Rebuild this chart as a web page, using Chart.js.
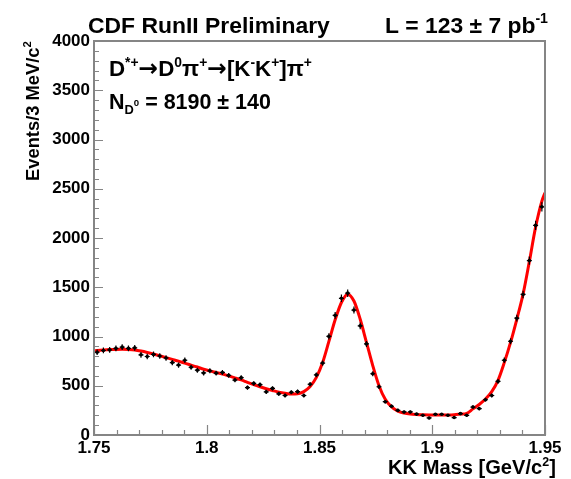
<!DOCTYPE html>
<html>
<head>
<meta charset="utf-8">
<script src="https://cdn.jsdelivr.net/npm/chart.js@4.4.0/dist/chart.umd.min.js"></script>
<style>
  html, body { margin: 0; padding: 0; background: #fff; }
</style>
</head>
<body>
<canvas id="chart" width="571" height="479"></canvas>
<script>
// histogram binning (KK invariant mass, GeV/c^2)
const massLo = 1.75;
const massHi = 1.95;
const nBins = 72;

// events per bin
const counts = [
  840, 858, 864, 879, 892, 879, 885, 814, 797, 818,
  802, 782, 735, 710, 759, 688, 658, 630, 652, 628,
  635, 605, 558, 582, 481, 524, 511, 438, 473, 418,
  401, 434, 440, 401, 515, 610, 730, 1001, 1214, 1388,
  1440, 1268, 1108, 925, 622, 490, 338, 292, 250, 234,
  234, 212, 200, 173, 210, 210, 200, 177, 217, 200,
  284, 268, 358, 401, 544, 759, 952, 1186, 1427, 1771,
  2128, 2316
];

// fit curve: value at the lower edge, at every bin centre, then at the upper edge
const fitValues = [
  855,
  858, 863, 867, 869, 870, 868, 863, 852, 838, 822,
  804, 786, 768, 750, 729, 710, 690, 668, 651, 635,
  619, 600, 580, 559, 535, 512, 490, 470, 452, 435,
  423, 415, 418, 440, 492, 585, 735, 950, 1170, 1345,
  1430, 1360, 1175, 940, 705, 500, 362, 285, 243, 223,
  213, 208, 205, 203, 202, 202, 203, 206, 212, 220,
  265, 310, 365, 440, 555, 735, 940, 1175, 1430, 1760,
  2110, 2375,
  2460
];

const xTicks = [1.75, 1.8, 1.85, 1.9, 1.95];
const xMinorStep = 0.01;
const yMin = 0, yMax = 4000, yStep = 500, yMinorStep = 100;

const binWidth = (massHi - massLo) / nBins;
const centres = counts.map((_, i) => massLo + (i + 0.5) * binWidth);
const points = counts.map((n, i) => ({ x: centres[i], y: n }));
const fitX = [massLo, ...centres, massHi];
const fitPoints = fitValues.map((v, i) => ({ x: fitX[i], y: v }));

const FONT = '"Liberation Sans", Arial, Helvetica, sans-serif';
const ARROW_FONT = '"DejaVu Sans", sans-serif';
const frameColor = '#858585';

// draw a run of text pieces with size/baseline shifts, returns width
function drawRuns(ctx, x, y, runs, size, measureOnly) {
  let cx = x;
  for (const r of runs) {
    const s = size * (r.scale || 1);
    ctx.font = `bold ${s}px ${r.family || FONT}`;
    if (!measureOnly) ctx.fillText(r.text, cx, y - (r.rise || 0) * size);
    cx += ctx.measureText(r.text).width;
  }
  return cx - x;
}

// pick the font size so that the runs span the given width
function fitRuns(ctx, x, y, runs, width) {
  const size = 20 * width / drawRuns(ctx, 0, 0, runs, 20, true);
  drawRuns(ctx, x, y, runs, size);
  return size;
}

const sup = (t) => ({ text: t, scale: 0.62, rise: 0.42 });
const arrow = { text: '→', family: ARROW_FONT, scale: 1.05 };

const decorations = {
  id: 'decorations',
  afterDatasetsDraw(chart) {
    const { ctx, chartArea: a, scales } = chart;
    const xs = scales.x, ys = scales.y;
    ctx.save();

    // error bars: sqrt(N) vertically, most of the bin horizontally
    ctx.strokeStyle = '#000';
    ctx.lineWidth = 1.2;
    points.forEach((p) => {
      const px = xs.getPixelForValue(p.x);
      const err = Math.sqrt(p.y);
      const half = (xs.getPixelForValue(p.x + binWidth / 2) - px) * 0.8;
      ctx.beginPath();
      ctx.moveTo(px, ys.getPixelForValue(p.y - err));
      ctx.lineTo(px, ys.getPixelForValue(p.y + err));
      ctx.moveTo(px - half, ys.getPixelForValue(p.y));
      ctx.lineTo(px + half, ys.getPixelForValue(p.y));
      ctx.stroke();
    });

    // frame
    ctx.strokeStyle = frameColor;
    ctx.lineWidth = 2;
    ctx.strokeRect(a.left, a.top, a.right - a.left, a.bottom - a.top);

    // inward ticks
    ctx.lineWidth = 1.2;
    ctx.beginPath();
    for (let v = yMin; v <= yMax + 1e-6; v += yMinorStep) {
      const py = Math.round(ys.getPixelForValue(v)) + 0.5;
      const len = Math.abs(v % yStep) < 1e-6 ? 9 : 5;
      ctx.moveTo(a.left, py);
      ctx.lineTo(a.left + len, py);
    }
    const nMinor = Math.round((massHi - massLo) / xMinorStep);
    for (let k = 0; k <= nMinor; k++) {
      const v = massLo + k * xMinorStep;
      const px = Math.round(xs.getPixelForValue(v)) + 0.5;
      const major = xTicks.some((t) => Math.abs(t - v) < 1e-6);
      const len = major ? 10 : 5;
      ctx.moveTo(px, a.bottom);
      ctx.lineTo(px, a.bottom - len);
    }
    ctx.stroke();

    // texts
    ctx.fillStyle = '#000';
    ctx.textBaseline = 'alphabetic';
    ctx.textAlign = 'left';
    fitRuns(ctx, 88, 33, [{ text: 'CDF RunII Preliminary' }], 242);
    fitRuns(ctx, 385, 33, [{ text: 'L = 123 ± 7 pb' }, sup('-1')], 163);

    fitRuns(ctx, 109, 76, [
      { text: 'D' }, sup('*+'), arrow, { text: 'D' }, sup('0'),
      { text: 'π' }, sup('+'), arrow, { text: '[K' }, sup('-'), { text: 'K' }, sup('+'),
      { text: ']π' }, sup('+')
    ], 203);

    fitRuns(ctx, 109, 109, [
      { text: 'N' }, { text: 'D', scale: 0.6, rise: -0.22 }, { text: '0', scale: 0.45, rise: 0.12 },
      { text: ' = 8190 ± 140' }
    ], 162);

    // x axis title
    fitRuns(ctx, 388, 474, [{ text: 'KK Mass [GeV/c' }, sup('2'), { text: ']' }], 168);

    // y axis title, rotated, ending at the top of the frame
    const yt = [{ text: 'Events/3 MeV/c' }, sup('2')];
    ctx.translate(39, a.top);
    ctx.rotate(-Math.PI / 2);
    fitRuns(ctx, -140, 0, yt, 140);

    ctx.restore();
  }
};

new Chart(document.getElementById('chart'), {
  type: 'scatter',
  data: {
    datasets: [
      {
        label: 'fit',
        data: fitPoints,
        showLine: true,
        borderColor: '#ff0000',
        borderWidth: 3,
        pointRadius: 0,
        cubicInterpolationMode: 'monotone',
        order: 2,
      },
      {
        label: 'data',
        data: points,
        pointStyle: 'circle',
        pointRadius: 1.8,
        backgroundColor: '#000',
        borderWidth: 0,
        order: 1,
      },
    ],
  },
  options: {
    responsive: false,
    devicePixelRatio: 1,
    animation: false,
    layout: { padding: { left: 0, right: 26, top: 41, bottom: 0 } },
    plugins: { legend: { display: false }, tooltip: { enabled: false } },
    scales: {
      x: {
        type: 'linear',
        min: massLo,
        max: massHi,
        afterBuildTicks: (scale) => { scale.ticks = xTicks.map((v) => ({ value: v })); },
        afterFit: (scale) => { scale.height = 44; },
        grid: { display: false, drawTicks: false },
        border: { display: false },
        ticks: {
          autoSkip: false,
          maxRotation: 0,
          padding: 3,
          color: '#000',
          font: { family: FONT, size: 17, weight: 'bold' },
          callback: (v) => String(+v.toFixed(2)),
        },
      },
      y: {
        min: yMin,
        max: yMax,
        afterFit: (scale) => { scale.width = 94; },
        grid: { display: false, drawTicks: false },
        border: { display: false },
        ticks: {
          stepSize: yStep,
          padding: 4,
          color: '#000',
          font: { family: FONT, size: 17, weight: 'bold' },
          callback: (v) => String(v),
        },
      },
    },
  },
  plugins: [decorations],
});
</script>
</body>
</html>
